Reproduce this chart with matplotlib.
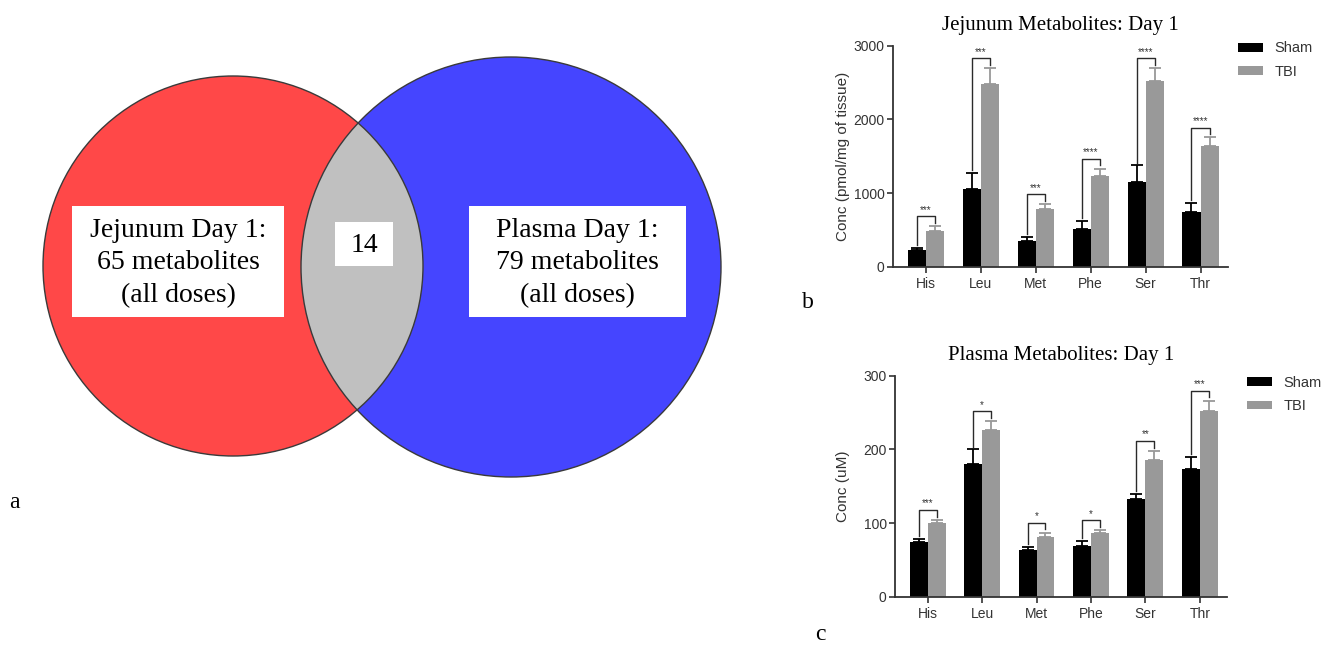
import matplotlib
matplotlib.use('Agg')
import numpy as np
import matplotlib.pyplot as plt
from matplotlib.patches import Circle, Rectangle

# amino acids measured at day 1
amino = ['His', 'Leu', 'Met', 'Phe', 'Ser', 'Thr']

# jejunum, pmol/mg of tissue (mean, upper SEM)
jej_sham = [226, 1059, 348, 520, 1154, 747]
jej_sham_err = [36, 222, 59, 104, 222, 122]
jej_tbi = [489, 2480, 783, 1235, 2525, 1638]
jej_tbi_err = [63, 212, 68, 100, 167, 118]
jej_stars = ['***', '***', '***', '****', '****', '****']

# plasma, uM
pla_sham = [73.8, 180, 63.3, 69, 132, 174]
pla_sham_err = [5, 20, 4, 7, 8, 16]
pla_tbi = [99.5, 226, 81, 86.4, 185.5, 252.5]
pla_tbi_err = [4.5, 12, 6, 3.6, 12.5, 13.5]
pla_stars = ['***', '*', '*', '*', '**', '***']

# venn counts
n_jejunum = 65
n_plasma = 79
n_shared = 14

SERIF = 'Liberation Serif'
SANS = 'Liberation Sans'
INK = '#333333'

fig = plt.figure(figsize=(13.34, 6.45), dpi=100)

# ---- panel a: venn, drawn in pixel units ----
va = fig.add_axes([0, 0, 1, 1], zorder=0)
va.set_xlim(0, 1334)
va.set_ylim(645, 0)
va.axis('off')

red = Circle((233, 266), 190, fc='#ff4848', ec='none')
blue = Circle((511, 267), 210, fc='#4545ff', ec='none')
va.add_patch(red)
va.add_patch(blue)
lens = Circle((233, 266), 190, fc='#c0c0c0', ec='none')
va.add_patch(lens)
lens.set_clip_path(blue)
for c, r in [((233, 266), 190), ((511, 267), 210)]:
    va.add_patch(Circle(c, r, fill=False, ec='#3a3a3a', lw=1))

va.add_patch(Rectangle((72, 206), 212, 111, fc='white', ec='none'))
va.add_patch(Rectangle((469, 206), 217, 111, fc='white', ec='none'))
va.add_patch(Rectangle((335, 222), 58, 44, fc='white', ec='none'))
va.text(178, 263, 'Jejunum Day 1:\n%d metabolites\n(all doses)' % n_jejunum,
        ha='center', va='center', family=SERIF, fontsize=20, linespacing=1.38)
va.text(577, 263, 'Plasma Day 1:\n%d metabolites\n(all doses)' % n_plasma,
        ha='center', va='center', family=SERIF, fontsize=20, linespacing=1.38)
va.text(364, 245, str(n_shared), ha='center', va='center', family=SERIF, fontsize=20)

fig.text(14 / 1334, 1 - 503 / 645, 'a', family=SERIF, fontsize=17, ha='center', va='center')
fig.text(808 / 1334, 1 - 303 / 645, 'b', family=SERIF, fontsize=17, ha='center', va='center')
fig.text(820 / 1334, 1 - 634 / 645, 'c', family=SERIF, fontsize=17, ha='center', va='center')


def bar_panel(ax, sham, sham_err, tbi, tbi_err, stars, ymax, ystep,
              ylabel, title, label_x, leg_anchor):
    x = np.arange(len(amino))
    w = 0.33
    z = np.zeros(len(x))
    ax.bar(x - w / 2, sham, w, color='black', label='Sham', zorder=2)
    ax.bar(x + w / 2, tbi, w, color='#999999', label='TBI', zorder=2)
    ax.errorbar(x - w / 2, sham, yerr=[z, sham_err], fmt='none', ecolor='black',
                elinewidth=1.3, capsize=4, capthick=1.3, zorder=1)
    ax.errorbar(x + w / 2, tbi, yerr=[z, tbi_err], fmt='none', ecolor='#999999',
                elinewidth=1.3, capsize=4, capthick=1.3, zorder=1)

    # significance brackets
    for i in range(len(x)):
        s_top = sham[i] + sham_err[i]
        t_top = tbi[i] + tbi_err[i]
        yb = max(s_top, t_top) + 0.045 * ymax
        ax.plot([x[i] - w / 2, x[i] - w / 2, x[i] + w / 2, x[i] + w / 2],
                [s_top + 0.012 * ymax, yb, yb, t_top + 0.015 * ymax],
                color='#2a2a2a', lw=1, clip_on=False)
        ax.text(x[i], yb + 0.03 * ymax, stars[i], ha='center', va='center',
                fontsize=7, color=INK, family=SANS)

    ax.set_xlim(-0.6, 5.5)
    ax.set_ylim(0, ymax)
    ax.set_yticks(np.arange(0, ymax + 1, ystep))
    ax.set_xticks(x)
    ax.set_xticklabels(amino)
    for s in ['top', 'right']:
        ax.spines[s].set_visible(False)
    for s in ['left', 'bottom']:
        ax.spines[s].set_color(INK)
        ax.spines[s].set_linewidth(1.3)
    ax.tick_params(length=4, width=1.2, color=INK, labelsize=10, labelcolor=INK)
    ax.tick_params(axis='y', pad=2)
    for t in ax.get_xticklabels() + ax.get_yticklabels():
        t.set_family(SANS)
    ax.set_ylabel(ylabel, family=SANS, fontsize=11, color=INK)
    ax.yaxis.set_label_coords(label_x, 0.5)
    ax.set_title(title, family=SERIF, fontsize=15, pad=11)
    leg = ax.legend(loc='upper left', bbox_to_anchor=leg_anchor, frameon=False,
                    handlelength=1.7, handleheight=0.55, handletextpad=0.8,
                    labelspacing=0.65, borderpad=0, borderaxespad=0,
                    prop={'family': SANS, 'size': 10.5})
    for t in leg.get_texts():
        t.set_color(INK)


ax_b = fig.add_axes([893 / 1334, 1 - 267 / 645, 335 / 1334, 221.3 / 645], zorder=2)
bar_panel(ax_b, jej_sham, jej_sham_err, jej_tbi, jej_tbi_err, jej_stars, 3000, 1000,
          'Conc (pmol/mg of tissue)', 'Jejunum Metabolites: Day 1', -0.128, (1.03, 1.02))

ax_c = fig.add_axes([895 / 1334, 1 - 596.7 / 645, 332 / 1334, 221 / 645], zorder=2)
bar_panel(ax_c, pla_sham, pla_sham_err, pla_tbi, pla_tbi_err, pla_stars, 300, 100,
          'Conc (uM)', 'Plasma Metabolites: Day 1', -0.135, (1.06, 1.0))

fig.savefig('out.png', dpi=100)
